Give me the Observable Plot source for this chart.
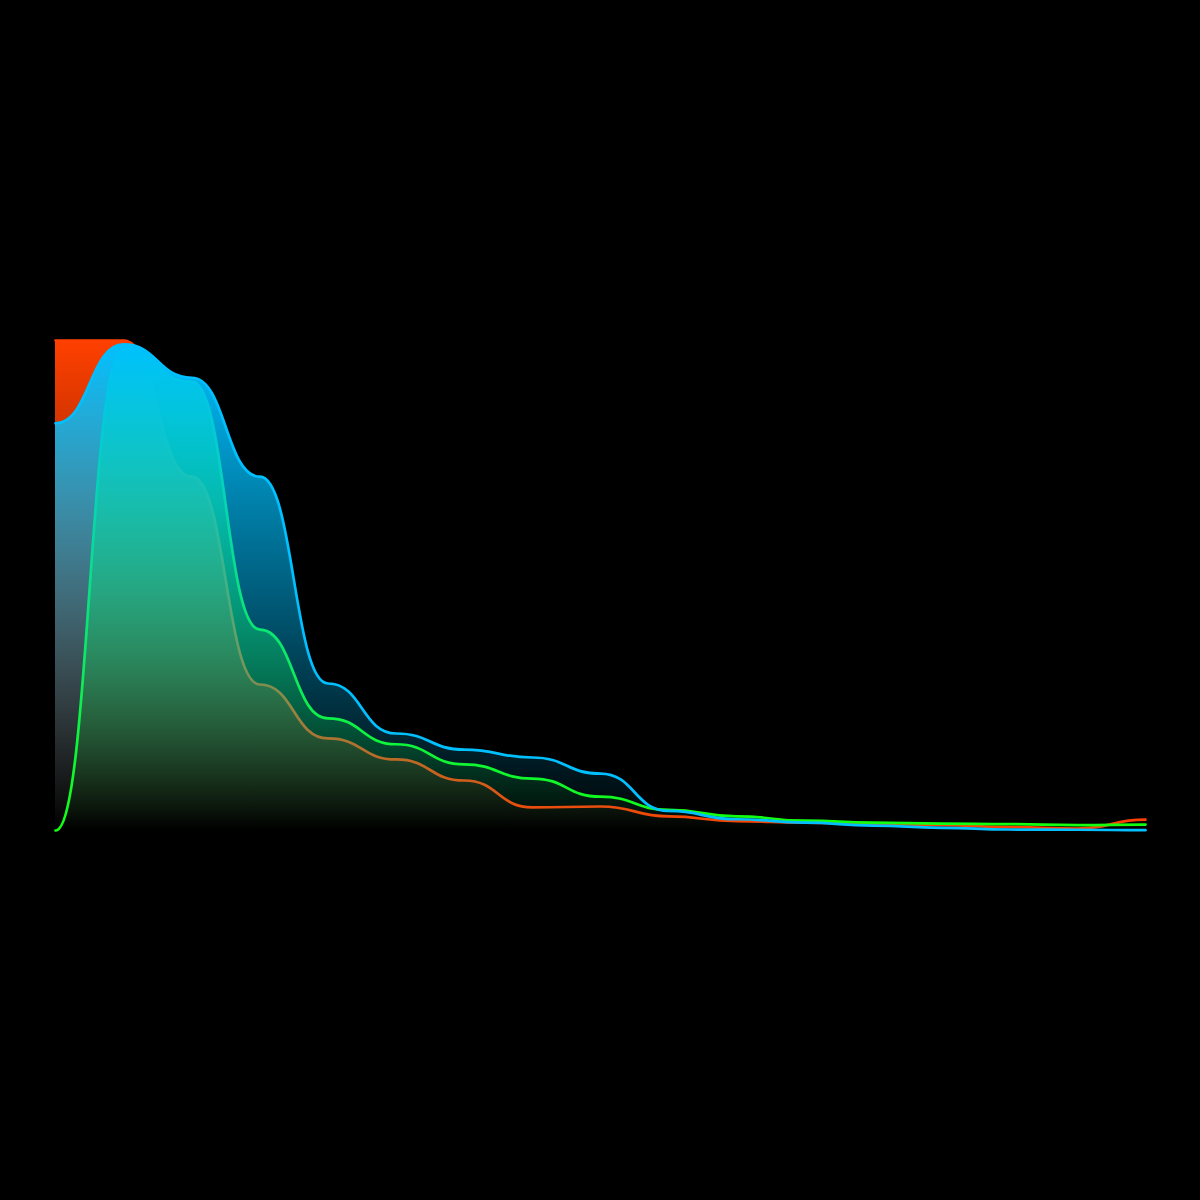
<!DOCTYPE html>
<html>
<head>
<meta charset="utf-8">
<script src="https://cdn.jsdelivr.net/npm/d3@7"></script>
<script src="https://cdn.jsdelivr.net/npm/@observablehq/plot@0.6"></script>
<style>
  html, body { margin: 0; padding: 0; background: #000; overflow: hidden; }
  #chart svg { display: block; }
</style>
</head>
<body>
<div id="chart"></div>
<script>
// x positions (step index)
const steps = [0, 1, 2, 3, 4, 5, 6, 7, 8, 9, 10, 11, 12, 13, 14, 15, 16];

// series values (0–100 scale)
const redValues   = [100, 100, 72.2, 29.8, 18.8, 14.5, 10.2, 4.7, 4.9, 2.9, 1.9, 1.6, 1.4, 1.1, 0.7, 0.4, 2.2];
const greenValues = [0, 98.4, 91.6, 41.0, 22.9, 17.6, 13.5, 10.6, 6.9, 4.2, 2.9, 2.0, 1.6, 1.4, 1.3, 1.1, 1.2];
const blueValues  = [83.1, 99.2, 92.4, 72.2, 30.0, 19.8, 16.5, 14.9, 11.6, 4.0, 2.3, 1.6, 1.0, 0.55, 0.2, 0.15, 0.06];

const seriesNames  = ["red", "green", "blue"];
const seriesColors = { red: "#ff4000", green: "#12ff12", blue: "#00c0ff" };
const seriesValues = { red: redValues, green: greenValues, blue: blueValues };

const table = name => steps.map((s, i) => ({ step: s, value: seriesValues[name][i], series: name }));

const yMax = 100;

function gradientDefs(index, scales) {
  const ns = "http://www.w3.org/2000/svg";
  const defs = document.createElementNS(ns, "defs");
  const yTop = scales.y(yMax), yBottom = scales.y(0);
  for (const name of seriesNames) {
    const g = document.createElementNS(ns, "linearGradient");
    g.setAttribute("id", "grad-" + name);
    g.setAttribute("gradientUnits", "userSpaceOnUse");
    g.setAttribute("x1", 0); g.setAttribute("x2", 0);
    g.setAttribute("y1", yTop); g.setAttribute("y2", yBottom);
    const s0 = document.createElementNS(ns, "stop");
    s0.setAttribute("offset", "0");
    s0.setAttribute("stop-color", seriesColors[name]);
    s0.setAttribute("stop-opacity", "1");
    const s1 = document.createElementNS(ns, "stop");
    s1.setAttribute("offset", "1");
    s1.setAttribute("stop-color", seriesColors[name]);
    s1.setAttribute("stop-opacity", "0");
    g.appendChild(s0); g.appendChild(s1);
    defs.appendChild(g);
  }
  return defs;
}

const marks = [gradientDefs];
for (const name of seriesNames) {
  const data = table(name);
  marks.push(Plot.areaY(data, { x: "step", y: "value", curve: "bump-x", fill: `url(#grad-${name})` }));
  marks.push(Plot.line(data, { x: "step", y: "value", curve: "bump-x", stroke: seriesColors[name], strokeWidth: 2.7 }));
}

const chart = Plot.plot({
  width: 1200,
  height: 1200,
  marginLeft: 55,
  marginRight: 55,
  marginTop: 340,
  marginBottom: 370,
  style: { background: "#000" },
  x: { domain: [0, 16], axis: null },
  y: { domain: [0, yMax], axis: null },
  marks
});

document.getElementById("chart").appendChild(chart);
</script>
</body>
</html>
